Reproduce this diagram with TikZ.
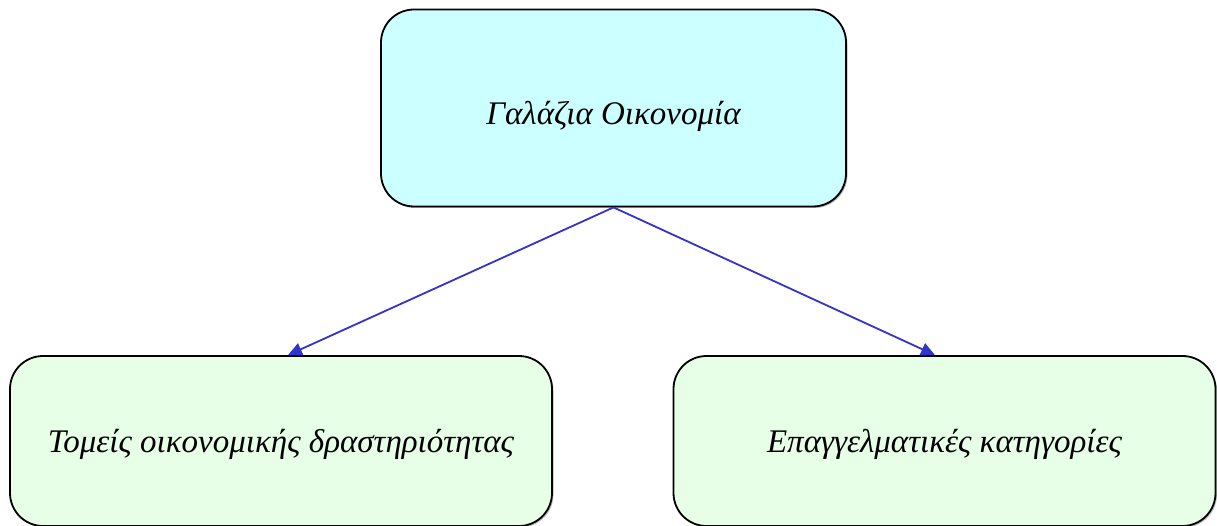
\documentclass[tikz,border=0pt]{standalone}
\usepackage{fontspec}
\setmainfont{Liberation Serif}
\usetikzlibrary{arrows.meta,shadows}

\definecolor{paleaqua}{RGB}{204,255,255}
\definecolor{palemint}{RGB}{230,255,230}
\definecolor{linkblue}{RGB}{51,51,204}

\tikzset{
  box/.style={draw=black, line width=1.8pt, rounded corners=33pt, inner sep=0pt,
    drop shadow={shadow xshift=1.5pt, shadow yshift=-1.5pt, fill=black!45, opacity=0.6},
    font=\fontsize{33}{36}\selectfont\itshape, text depth=8pt},
  topbox/.style={box, fill=paleaqua, minimum width=465pt, minimum height=197pt, text height=42pt},
  subbox/.style={box, fill=palemint, minimum width=542pt, minimum height=170pt, text height=30pt},
  link/.style={draw=linkblue, line width=1.8pt, -{Triangle[length=14pt,width=13pt]}}
}

\begin{document}
\begin{tikzpicture}[x=1pt, y=-1pt]
			%%%%% START %%%%%
			
			\useasboundingbox (0, 0) rectangle (1217, 526);
			
			\node[topbox] (econ) at (613.5, 108) {Γαλάζια Οικονομία};
			
			\node[subbox] (sectors) at (281, 441) {Τομείς οικονομικής δραστηριότητας};
			\node[subbox] (jobs) at (944.5, 441) {Επαγγελματικές κατηγορίες};
			
			\draw[link] (econ.south) -- ([xshift=7pt]sectors.north);
			\draw[link] (econ.south) -- ([xshift=-9.5pt]jobs.north);
			
			%%%%% END %%%%%
\end{tikzpicture}
\end{document}
